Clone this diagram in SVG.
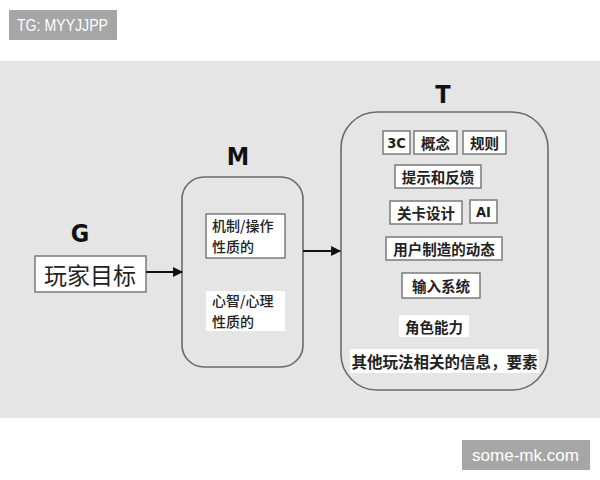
<svg xmlns="http://www.w3.org/2000/svg" width="600" height="480" viewBox="0 0 600 480">
<defs>
<style>
.wm{fill:#a6a6a6}
.wmt{fill:#ffffff;font-family:"Liberation Sans",Arial,sans-serif}
.lbl{fill:#111;font-family:"Liberation Sans Narrow","DejaVu Sans Condensed","Liberation Sans",sans-serif;font-weight:bold;font-size:25px;text-anchor:middle}
.grp{fill:none;stroke:#6a6a6a;stroke-width:1.6}
.box{fill:#ffffff;stroke:#7a7a7a;stroke-width:1.5}
.pad{fill:#ffffff;stroke:none}
.cn{fill:#222;font-family:"Noto Sans CJK SC","Noto Sans",sans-serif;font-size:14.5px;font-weight:bold;text-anchor:middle;dominant-baseline:central}
.lat{font-family:"DejaVu Sans Condensed","Liberation Sans Narrow",sans-serif}
.cnm{fill:#222;font-family:"Noto Sans CJK SC","Noto Sans",sans-serif;font-size:14px;font-weight:500}
.big{fill:#222;font-family:"Noto Sans CJK SC","Noto Sans",sans-serif;font-size:23px;text-anchor:middle;dominant-baseline:central}
.conn{stroke:#111;stroke-width:2.2;fill:none}
</style>
<marker id="ah" viewBox="0 0 10 10" refX="9" refY="5" markerWidth="4.5" markerHeight="4.5" orient="auto" markerUnits="strokeWidth">
<path d="M0,0 L10,5 L0,10 z" fill="#111"/>
</marker>
</defs>
<rect width="600" height="480" fill="#ffffff"/>
<rect x="0" y="61" width="600" height="357" fill="#e6e5e6"/>
<g id="watermark-top">
<rect class="wm" x="9" y="10" width="108" height="30"/>
<text class="wmt" x="17" y="31" font-size="17" textLength="91" lengthAdjust="spacingAndGlyphs">TG: MYYJJPP</text>
</g>
<g id="watermark-bottom">
<rect class="wm" x="462" y="440" width="128" height="30"/>
<text class="wmt" x="472" y="461" font-size="17" textLength="107" lengthAdjust="spacingAndGlyphs">some-mk.com</text>
</g>
<g id="G">
<text class="lbl" x="80" y="242">G</text>
<rect class="box" x="35" y="256" width="111" height="36"/>
<text class="big" x="90" y="274">玩家目标</text>
</g>
<g id="M">
<text class="lbl" x="238" y="165">M</text>
<rect class="grp" x="182" y="177" width="121" height="190" rx="22"/>
<rect class="box" x="206" y="214" width="79" height="44"/>
<text class="cnm" x="212" y="231"><tspan x="212">机制/操作</tspan><tspan x="212" dy="20.5">性质的</tspan></text>
<rect class="pad" x="206" y="291" width="79" height="40"/>
<text class="cnm" x="212" y="306"><tspan x="212">心智/心理</tspan><tspan x="212" dy="20.5">性质的</tspan></text>
</g>
<g id="T">
<text class="lbl" x="443" y="103">T</text>
<rect class="grp" x="341" y="112" width="207" height="278" rx="36"/>
<rect class="box" x="383" y="131" width="27" height="23"/>
<text class="cn lat" x="396.5" y="142.5">3C</text>
<rect class="box" x="414" y="131" width="43" height="23"/>
<text class="cn" x="435.5" y="142.5">概念</text>
<rect class="box" x="463" y="131" width="43" height="23"/>
<text class="cn" x="484.5" y="142.5">规则</text>
<rect class="box" x="395" y="165" width="86" height="23"/>
<text class="cn" x="438" y="176.5">提示和反馈</text>
<rect class="box" x="390" y="201" width="72" height="23"/>
<text class="cn" x="426" y="212.5">关卡设计</text>
<rect class="box" x="470" y="200" width="27" height="23"/>
<text class="cn lat" x="483.5" y="211.5">AI</text>
<rect class="box" x="386" y="237" width="116" height="23"/>
<text class="cn" x="444" y="248.5">用户制造的动态</text>
<rect class="box" x="402" y="273" width="78" height="25"/>
<text class="cn" x="441" y="285.5">输入系统</text>
<rect class="pad" x="399" y="315" width="70" height="22"/>
<text class="cn" x="434" y="326">角色能力</text>
<rect class="pad" x="350" y="349" width="189" height="24"/>
<text class="cn" x="444.5" y="361" style="font-size:15.5px">其他玩法相关的信息，要素</text>
</g>
<g id="connectors">
<line class="conn" x1="146" y1="272" x2="182" y2="272" marker-end="url(#ah)"/>
<line class="conn" x1="303" y1="251" x2="340" y2="251" marker-end="url(#ah)"/>
</g>
</svg>
